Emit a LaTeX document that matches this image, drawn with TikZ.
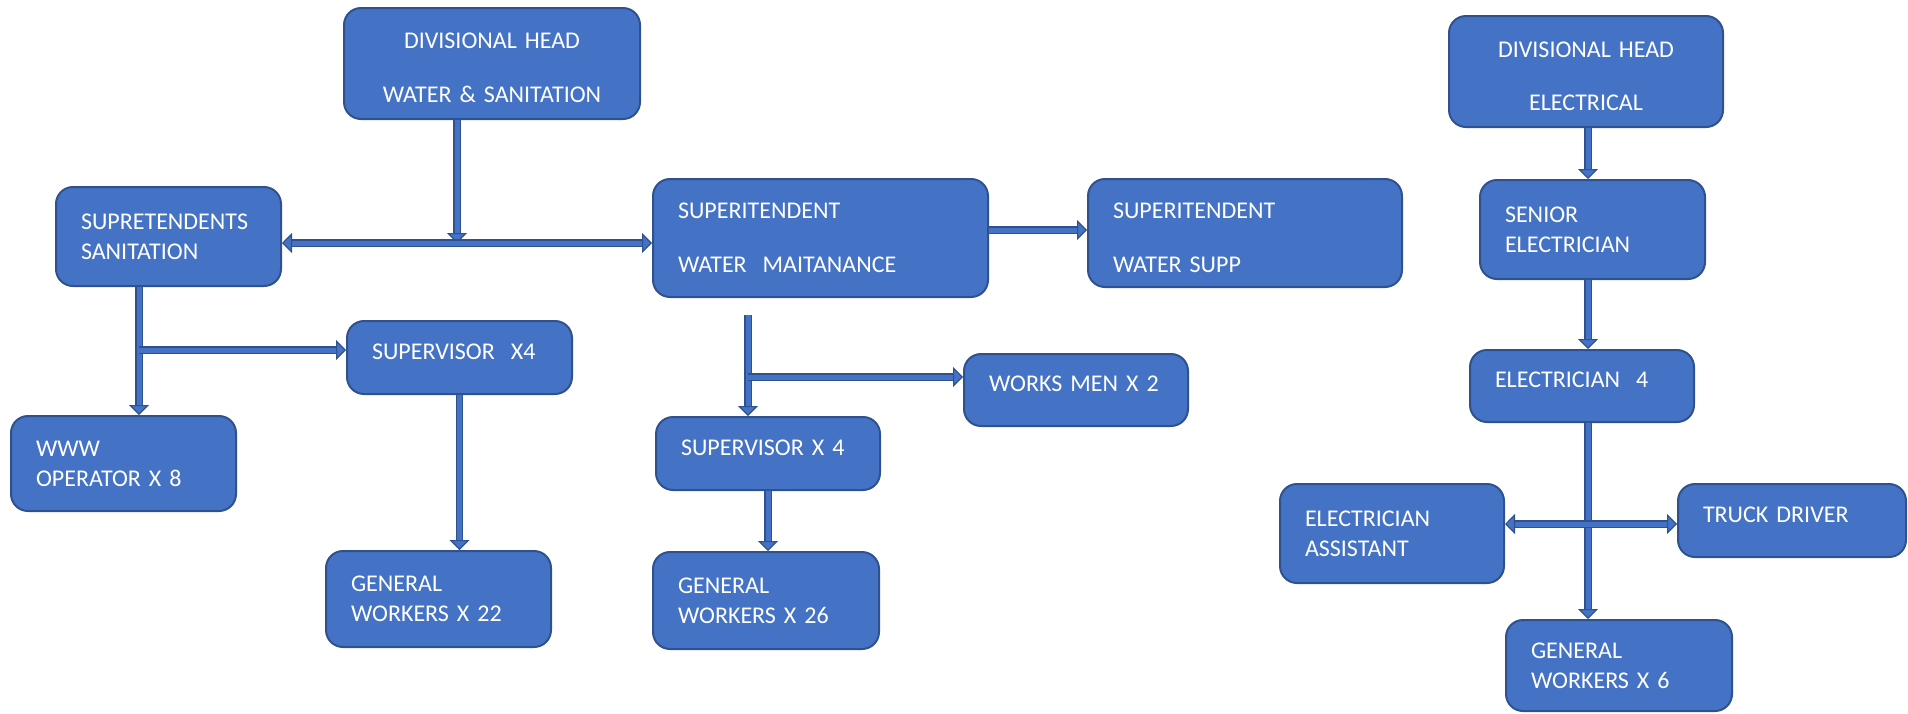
\documentclass[tikz,border=0pt]{standalone}
\usepackage{fontspec}
\setmainfont{Carlito}
\usetikzlibrary{arrows.meta,positioning}
\definecolor{BoxBlue}{RGB}{68,114,196}
\definecolor{EdgeBlue}{RGB}{47,82,143}
\tikzset{
  unit/.style 2 args={draw=EdgeBlue,line width=2pt,fill=BoxBlue,rounded corners=17pt,
    text=white,inner xsep=0pt,inner ysep=0pt,align=left,
    minimum width=#1,minimum height=#2,text width=#1-50pt,
    font=\fontsize{24}{30}\selectfont},
  head/.style={align=center},
  oneline/.style={text depth=12pt},
  lowered/.style={text height=25pt},
  link/.style={draw=EdgeBlue,line width=1.2pt,double=BoxBlue,double distance=5pt,
    -{Triangle[length=10pt,width=20pt,fill=BoxBlue]}},
  twolink/.style={link,{Triangle[length=10pt,width=20pt,fill=BoxBlue]}-{Triangle[length=10pt,width=20pt,fill=BoxBlue]}}
}

\begin{document}
\begin{tikzpicture}[x=1pt,y=-1pt]
  \useasboundingbox (0,0) rectangle (1908,713);
  % water and sanitation
  \node[unit={296pt}{111pt},head,lowered] (dhws) at (492,63.5) {DIVISIONAL HEAD\\[24pt]WATER \& SANITATION};
  \node[unit={225pt}{99pt}] (supsan) at (168.5,236.5) {SUPRETENDENTS\\SANITATION};
  \node[unit={335pt}{118pt}] (supwm) at (820.5,238) {SUPERITENDENT\\[24pt]WATER\ \ MAITANANCE};
  \node[unit={314pt}{108pt},lowered] (supws) at (1245,233) {SUPERITENDENT\\[24pt]WATER SUPP};
  \node[unit={225pt}{73pt},oneline] (sva) at (459.5,357.5) {SUPERVISOR\ \ X4};
  \node[unit={225pt}{95pt}] (www) at (123.5,463.5) {WWW\\OPERATOR X 8};
  \node[unit={225pt}{96pt}] (gwa) at (438.5,599) {GENERAL\\WORKERS X 22};
  \node[unit={224pt}{72pt},oneline] (works) at (1076,390) {WORKS MEN X 2};
  \node[unit={224pt}{73pt},oneline] (svb) at (768,453.5) {SUPERVISOR X 4};
  \node[unit={226pt}{97pt}] (gwb) at (766,600.5) {GENERAL\\WORKERS X 26};
  % electrical
  \node[unit={274pt}{111pt},head,lowered] (dhel) at (1586,71.5) {DIVISIONAL HEAD\\[23pt]ELECTRICAL};
  \node[unit={225pt}{99pt}] (senel) at (1592.5,229.5) {SENIOR\\ELECTRICIAN};
  \node[unit={224pt}{72pt},oneline] (elec) at (1582,386) {ELECTRICIAN\ \ 4};
  \node[unit={224pt}{99pt}] (elasst) at (1392,533.5) {ELECTRICIAN\\ASSISTANT};
  \node[unit={228pt}{73pt},oneline] (truck) at (1792,520.5) {TRUCK DRIVER};
  \node[unit={226pt}{91pt}] (gwc) at (1619,665.5) {GENERAL\\WORKERS X 6};

  \coordinate (j1) at (457,243);
  \coordinate (j2) at (139,350);
  \coordinate (j3) at (748,315);
  \coordinate (j4) at (748,377);
  \coordinate (j5) at (1588,524);

  \draw[link] (j1 |- dhws.south) -- (j1);
  \draw[twolink] (supsan.east |- j1) -- (supwm.west |- j1);
  \draw[link] ([yshift=8pt]supwm.east) -- ([yshift=8pt]supwm.east -| supws.west);
  \draw[link] (j2 |- supsan.south) -- (j2 |- www.north);
  \draw[link] (j2) -- (sva.west |- j2);
  \draw[link] (sva.south) -- (sva.south |- gwa.north);
  \draw[link] (j3) -- (j3 |- svb.north);
  \draw[link] (j4) -- (works.west |- j4);
  \draw[link] (svb.south) -- (svb.south |- gwb.north);
  \draw[link] (j5 |- dhel.south) -- (j5 |- senel.north);
  \draw[link] (j5 |- senel.south) -- (j5 |- elec.north);
  \draw[link] (j5 |- elec.south) -- (j5 |- gwc.north);
  \draw[twolink] (elasst.east |- j5) -- (truck.west |- j5);
\end{tikzpicture}
\end{document}
